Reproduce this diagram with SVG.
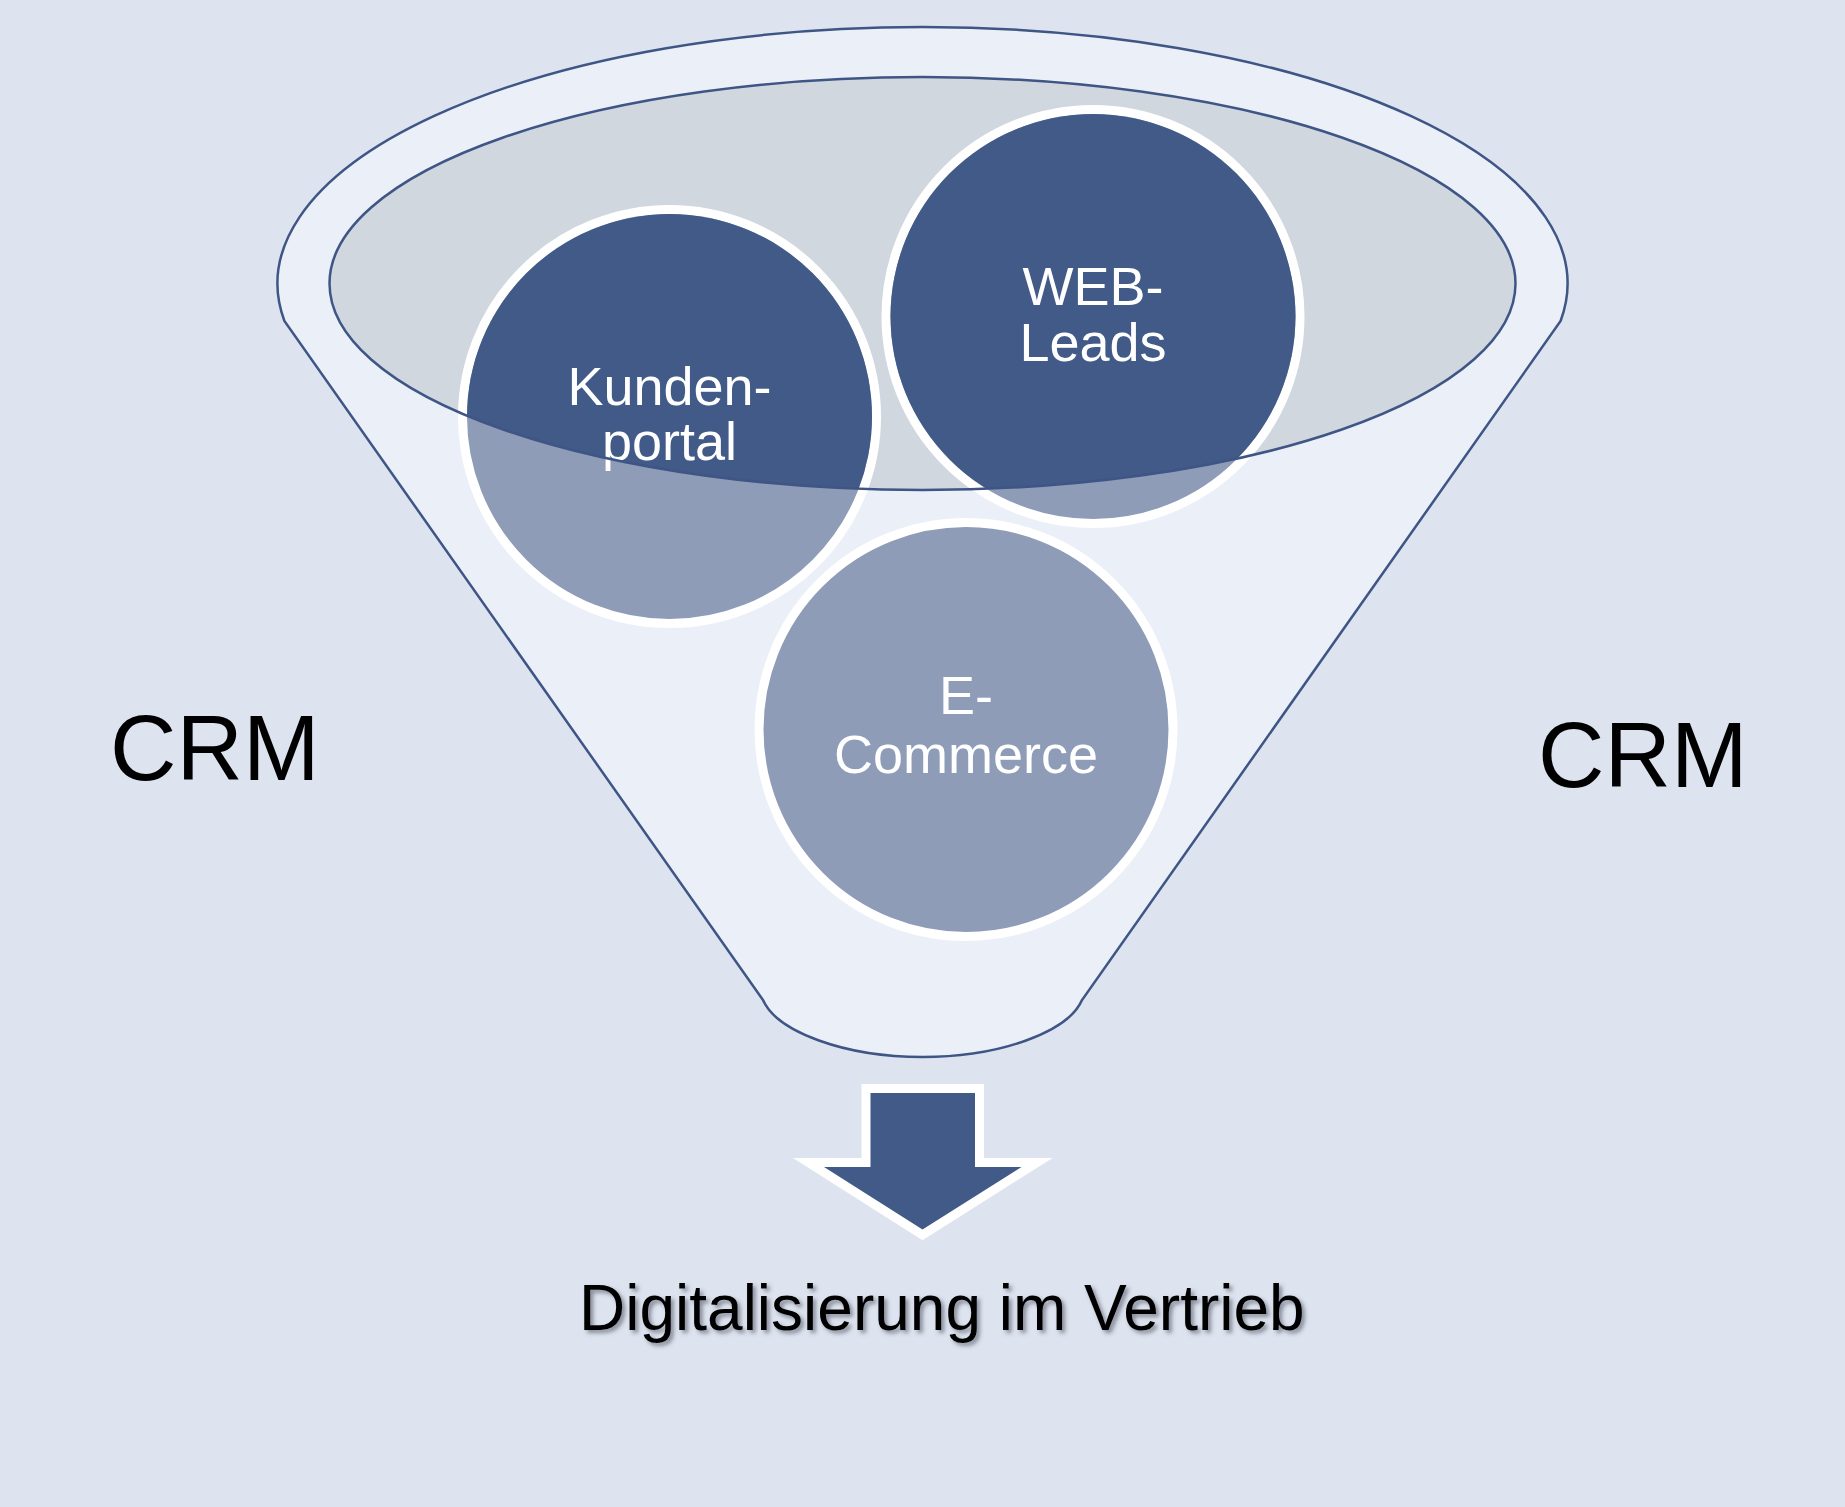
<svg xmlns="http://www.w3.org/2000/svg" width="1845" height="1507" viewBox="0 0 1845 1507">
  <style>
    .outline { stroke: #3E5585; stroke-width: 2.5; }
    .ring { fill: #8E9CB8; stroke: #FFFFFF; stroke-width: 9; }
    .dark { fill: #415A87; }
    .lbl { font-family: "Liberation Sans", Arial, sans-serif; font-size: 54px; fill: #FFFFFF; text-anchor: middle; }
    .big { font-family: "Liberation Sans", Arial, sans-serif; fill: #000000; }
  </style>
  <defs>
    <clipPath id="topClip">
      <ellipse cx="922.5" cy="283.5" rx="593" ry="206.5"/>
    </clipPath>
    <filter id="shadow" x="-5%" y="-30%" width="110%" height="160%">
      <feDropShadow dx="3" dy="3" stdDeviation="2" flood-color="#3A4050" flood-opacity="0.55"/>
    </filter>
  </defs>
  <rect x="0" y="0" width="1845" height="1507" fill="#DEE4EF"/>

  <g id="funnel">
    <path class="outline" fill="#EBEFF7" d="M 284.4 321 A 645 256.5 0 1 1 1560.6 321 L 1082 1000 C 1068 1032 1000 1057 922.5 1057 C 845 1057 777 1032 763 1000 Z"/>
    <ellipse cx="922.5" cy="283.5" rx="593" ry="206.5" fill="#D1D7DF"/>
  </g>

  <g id="node-kundenportal">
    <circle class="ring" cx="669.5" cy="416.5" r="207"/>
    <circle class="dark" cx="669.5" cy="416.5" r="202.5" clip-path="url(#topClip)"/>
    <text class="lbl" x="669.5" y="405">Kunden-</text>
    <text class="lbl" x="669.5" y="460">portal</text>
  </g>

  <g id="node-webleads">
    <circle class="ring" cx="1093" cy="316.5" r="207"/>
    <circle class="dark" cx="1093" cy="316.5" r="202.5" clip-path="url(#topClip)"/>
    <text class="lbl" x="1093" y="305">WEB-</text>
    <text class="lbl" x="1093" y="361">Leads</text>
  </g>

  <g id="node-ecommerce">
    <circle class="ring" cx="966" cy="729.5" r="207"/>
    <text class="lbl" x="966" y="714">E-</text>
    <text class="lbl" x="966" y="773">Commerce</text>
  </g>

  <g id="funnel-rim">
    <ellipse class="outline" cx="922.5" cy="283.5" rx="593" ry="206.5" fill="none"/>
  </g>

  <g id="connectors">
    <polygon points="870.5,1093 975,1093 975,1167 1021.5,1167 922.5,1229.5 824,1167 870.5,1167" fill="#415A87" stroke="#FFFFFF" stroke-width="18" stroke-linejoin="miter" stroke-miterlimit="6" paint-order="stroke"/>
  </g>

  <g id="node-crm-left">
    <text class="big" x="110" y="780" font-size="92">CRM</text>
  </g>
  <g id="node-crm-right">
    <text class="big" x="1538" y="787" font-size="92">CRM</text>
  </g>
  <g id="node-result">
    <text class="big" x="579" y="1330" font-size="64" filter="url(#shadow)">Digitalisierung im Vertrieb</text>
  </g>
</svg>
